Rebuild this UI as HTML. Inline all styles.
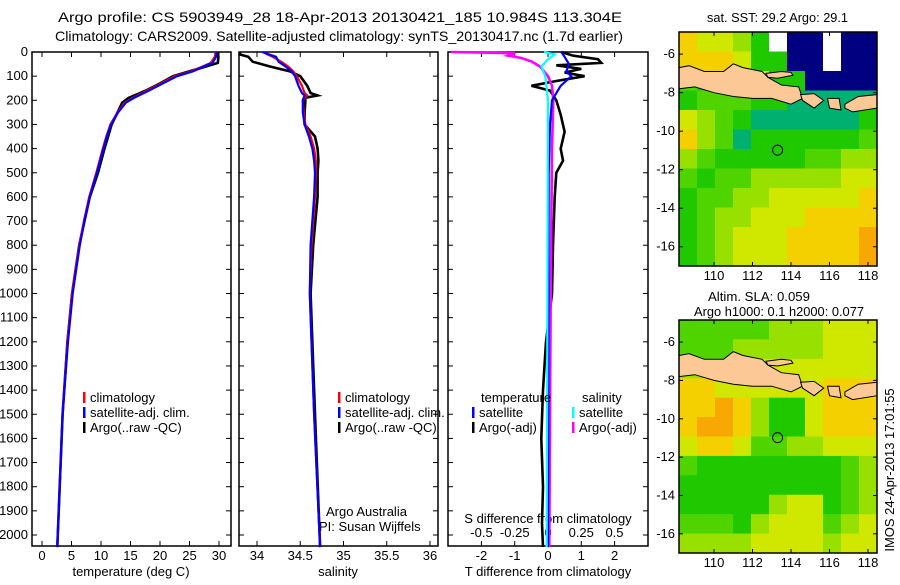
<!DOCTYPE html>
<html><head><meta charset="utf-8"><style>
body{margin:0;background:#fff;width:900px;height:580px;overflow:hidden}
svg text{font-family:"Liberation Sans",sans-serif;font-size:13px;fill:#000}
</style></head><body>
<svg id="s" width="900" height="580" xmlns="http://www.w3.org/2000/svg">
<text x="58" y="22" textLength="564" lengthAdjust="spacingAndGlyphs" style="font-size:14px">Argo profile: CS 5903949_28 18-Apr-2013 20130421_185 10.984S 113.304E</text>
<text x="55" y="41" textLength="568" lengthAdjust="spacingAndGlyphs" style="font-size:14px">Climatology: CARS2009. Satellite-adjusted climatology: synTS_20130417.nc (1.7d earlier)</text>
<text x="707" y="22" textLength="141" lengthAdjust="spacingAndGlyphs">sat. SST: 29.2 Argo: 29.1</text>
<text x="708" y="301" textLength="102" lengthAdjust="spacingAndGlyphs">Altim. SLA: 0.059</text>
<text x="694" y="316" textLength="170" lengthAdjust="spacingAndGlyphs">Argo h1000: 0.1 h2000: 0.077</text>
<text transform="translate(894,470) rotate(-90)" text-anchor="middle">IMOS 24-Apr-2013 17:01:55</text>
<text x="326" y="516">Argo Australia</text>
<text x="319" y="531">PI: Susan Wijffels</text>
</svg>
<script>
// ---- data ----
const depthTicks=[0,100,200,300,400,500,600,700,800,900,1000,1100,1200,1300,1400,1500,1600,1700,1800,1900,2000];
const tDepth=[0,20,45,60,80,100,130,160,190,210,250,300,350,400,500,600,700,800,1000,1200,1500,1800,2050];
const tClim=[29.4,29.3,28.6,27.2,25.3,22.5,20.2,17.8,15.4,14.0,12.8,11.6,10.9,10.3,9.2,8.0,7.1,6.3,5.1,4.3,3.5,3.0,2.6];
const tSat=[29.6,29.5,28.9,27.4,25.6,22.9,20.5,18.1,15.6,14.2,12.9,11.7,11.0,10.4,9.3,8.1,7.2,6.4,5.2,4.4,3.5,3.0,2.6];
const tArgo=[29.8,29.9,29.8,27.8,25.0,22.2,20.0,17.6,14.7,13.6,12.8,11.8,11.2,10.6,9.5,8.1,7.2,6.3,5.1,4.3,3.5,3.0,2.6];
const sDepth=[0,10,20,40,60,80,100,140,170,180,190,200,250,300,350,400,450,500,600,800,1000,1500,2050];
const sClim=[34.07,34.12,34.18,34.28,34.36,34.42,34.46,34.52,34.55,34.58,34.55,34.53,34.54,34.56,34.62,34.66,34.68,34.68,34.67,34.63,34.61,34.66,34.73];
const sSat=[34.06,34.14,34.22,34.25,34.33,34.40,34.44,34.48,34.52,34.55,34.54,34.53,34.53,34.55,34.60,34.64,34.66,34.67,34.66,34.62,34.61,34.66,34.73];
const sArgo=[33.80,33.80,33.90,33.95,34.15,34.38,34.50,34.58,34.62,34.70,34.55,34.56,34.55,34.55,34.67,34.70,34.71,34.70,34.70,34.65,34.62,34.67,34.73];
const dtDepth=[0,15,30,45,55,70,85,100,120,140,160,200,260,330,400,450,500,600,800,1000,1200,1400,1600,1800,1950,2050];
const dtArgo=[0.4,0.75,1.5,1.6,0.25,1.0,0.5,1.1,0.25,-0.5,0.06,0.25,0.38,0.5,0.38,0.45,0.25,0.2,0.15,0.12,-0.06,-0.15,-0.2,-0.15,-0.18,-0.15];
const dtSatDepth=[0,20,50,80,100,140,200,300,500,2050];
const dtSat=[0.4,0.5,0.63,0.55,0.7,0.38,0.12,0.06,0.02,0];
const dsArgoDepth=[0,5,15,25,40,60,100,140,200,400,1000,2050];
const dsArgo=[-0.73,-0.25,-0.3,-0.2,-0.12,-0.06,0,0.03,0.04,0.03,0.02,0.01];
const dsSatDepth=[0,10,30,60,100,200,2050];
const dsSat=[-0.03,0.05,0,-0.05,-0.02,0,-0.01];
const tempTicks=[0,5,10,15,20,25,30];
const salTicks=[34,34.5,35,35.5,36];
const dtTicks=[-2,-1,0,1,2];
const dsTicks=[-0.5,-0.25,0,0.25,0.5];
const latTicks=[-6,-8,-10,-12,-14,-16];
const lonTicks=[110,112,114,116,118];
const sstGrid=["87764w00w00","88874400w00","54447440000","45554433333","76543333334","86534444445","65444445566","54556666677","45566777778","45667778888","45677788889","45677788889"];
const slaGrid=["55555666777","55566666777","66777777777","88777777888","88986447888","89986447888","78875566777","54444444456","44444444456","44444677456","55546777567","66667777677"];
const argoLon=113.304, argoLat=-10.984;
// ---- helpers ----
const S=document.getElementById('s'),NS='http://www.w3.org/2000/svg';
function mk(t,a,p){const e=document.createElementNS(NS,t);for(const k in a)e.setAttribute(k,a[k]);(p||S).appendChild(e);return e;}
const Y0=52,PY=0.2415;const yD=d=>Y0+d*PY;
const P1={l:32,r:231},P2={l:239,r:438},P3={l:448,r:648},TOP=52,BOT=546;
const xT=v=>42+v*(219-42)/30, xS=v=>257+(v-34)*(430-257)/2, xDT=v=>548+v*33.3, xDS=v=>548+v*133;
function line(xs,ds,fx,col,name,w){const pts=xs.map((v,i)=>fx(v).toFixed(1)+','+yD(ds[i]).toFixed(1)).join(' ');
 const e=mk('polyline',{points:pts,fill:'none',stroke:col,'stroke-width':w||2.2});
 
 }
function frame(P,name){const e=mk('rect',{x:P.l,y:TOP,width:P.r-P.l,height:BOT-TOP,fill:'none',stroke:'#000','stroke-width':1.5});
 
 
 depthTicks.forEach(d=>{mk('line',{x1:P.l,x2:P.l+5,y1:yD(d),y2:yD(d),stroke:'#000'});mk('line',{x1:P.r,x2:P.r-5,y1:yD(d),y2:yD(d),stroke:'#000'});});}
function xticks(ticks,fx,ylab,fmt,name){ticks.forEach(v=>{const x=fx(v);mk('line',{x1:x,x2:x,y1:BOT,y2:BOT-5,stroke:'#000'});mk('line',{x1:x,x2:x,y1:TOP,y2:TOP+5,stroke:'#000'});
 const t=mk('text',{x:x,y:ylab,'text-anchor':'middle'});t.textContent=fmt(v);
 
 });}
function txt(x,y,s,name,anchor){const t=mk('text',{x:x,y:y,'text-anchor':anchor||'start'});t.textContent=s;
 
 return t;}
depthTicks.forEach(d=>{txt(28,yD(d)+4,String(d),'depth-tick-label','end');});
frame(P1,'temperature-panel');
xticks(tempTicks,xT,560,v=>v,'temperature-tick-label');
txt(131,576,'temperature (deg C)','temperature-axis-title','middle');
line(tArgo,tDepth,xT,'#000','temperature-argo-line',2.6);
line(tClim,tDepth,xT,'#ff0000','temperature-climatology-line');
line(tSat,tDepth,xT,'#0000ff','temperature-satellite-line');
frame(P2,'salinity-panel');
xticks(salTicks,xS,560,v=>v,'salinity-tick-label');
txt(338,576,'salinity','salinity-axis-title','middle');
line(sArgo,sDepth,xS,'#000','salinity-argo-line',2.6);
line(sClim,sDepth,xS,'#ff0000','salinity-climatology-line');
line(sSat,sDepth,xS,'#0000ff','salinity-satellite-line');
frame(P3,'difference-panel');
xticks(dtTicks,xDT,560,v=>v,'t-diff-tick-label');
dsTicks.forEach(v=>{txt(xDS(v),537,String(v),'s-diff-tick-label','middle');});
txt(548,576,'T difference from climatology','t-diff-axis-title','middle');
txt(548,523,'S difference from climatology','s-diff-axis-title','middle');
line(dtArgo,dtDepth,xDT,'#000','t-diff-argo-line',2.6);
line(dsArgo,dsArgoDepth,xDS,'#ff00ff','s-diff-argo-line',2.6);
line(dtSat,dtSatDepth,xDT,'#0000ff','t-diff-satellite-line');
line(dsSat,dsSatDepth,xDS,'#00ffff','s-diff-satellite-line');
function leg(x,y,col,label,name){mk('rect',{x:x,y:y-10,width:2.5,height:11,fill:col});txt(x+7,y,label,name);}
[[P1,83],[P2,338]].forEach(([P,x])=>{leg(x,402,'#ff0000','climatology','legend-climatology');leg(x,417,'#0000ff','satellite-adj. clim.','legend-satellite');leg(x,432,'#000','Argo(..raw -QC)','legend-argo');});
txt(481,402,'temperature','legend-temperature-header');
txt(582,402,'salinity','legend-salinity-header');
leg(472,417,'#0000ff','satellite','legend-t-satellite');leg(472,432,'#000','Argo(-adj)','legend-t-argo');
leg(572,417,'#00ffff','satellite','legend-s-satellite');leg(572,432,'#ff00ff','Argo(-adj)','legend-s-argo');
const PAL={'0':'#000080','1':'#0060ff','2':'#00c0ff','3':'#00b070','4':'#20c800','5':'#50d400','6':'#98e000','7':'#d0e800','8':'#f4d000','9':'#f8a800','r':'#c00000','w':'#ffffff'};
const LON0=108.18,LON1=118.47,LAT0=-4.85,LAT1=-17.0;
const java=[[108.18,-6.7],[108.7,-6.6],[109.5,-6.9],[110.5,-6.9],[111,-6.5],[111.5,-6.7],[112.5,-6.9],[112.8,-7.2],[113.5,-7.6],[114.4,-7.7],[114.6,-8.3],[114,-8.6],[113,-8.3],[112,-8.3],[111,-8.2],[110,-8],[109,-7.7],[108.18,-7.8]];
const madura=[[112.7,-7.0],[113.5,-6.9],[114,-6.95],[114.1,-7.1],[113.3,-7.25],[112.8,-7.2]];
const bali=[[114.5,-8.1],[115.2,-8.05],[115.7,-8.4],[115.2,-8.8],[114.6,-8.4]];
const lombok=[[115.9,-8.3],[116.5,-8.3],[116.6,-8.9],[116,-8.8]];
const sumbawa=[[116.8,-8.6],[117.5,-8.2],[118.47,-8.1],[118.47,-8.8],[117.2,-9],[116.8,-8.8]];
function map(grid,top,bot,name){const L=679,R=877;
 const fx=v=>L+(v-LON0)/(LON1-LON0)*(R-L), fy=v=>top+(v-LAT0)/(LAT1-LAT0)*(bot-top);
 const g=mk('g',{});
 const rows=grid.length,cols=grid[0].length,cw=(R-L)/cols,ch=(bot-top)/rows;
 grid.forEach((r,i)=>[...r].forEach((c,j)=>mk('rect',{x:L+j*cw,y:top+i*ch,width:cw+0.5,height:ch+0.5,fill:PAL[c]},g)));
 [java,madura,bali,lombok,sumbawa].forEach(p=>{const e=mk('polygon',{points:p.map(q=>fx(q[0]).toFixed(1)+','+fy(q[1]).toFixed(1)).join(' '),fill:'#fcc896',stroke:'#000','stroke-width':1},g);
  
  });
 const c=mk('circle',{cx:fx(argoLon),cy:fy(argoLat),r:5,fill:'none',stroke:'#000','stroke-width':1},g);
 
 
 mk('rect',{x:L,y:top,width:R-L,height:bot-top,fill:'none',stroke:'#000','stroke-width':1.5});
 latTicks.forEach(v=>{const y=fy(v);mk('line',{x1:L,x2:L+4,y1:y,y2:y,stroke:'#000'});mk('line',{x1:R,x2:R-4,y1:y,y2:y,stroke:'#000'});txt(675,y+4,String(v),'map-lat-label','end');});
 lonTicks.forEach(v=>{const x=fx(v);mk('line',{x1:x,x2:x,y1:bot,y2:bot-4,stroke:'#000'});mk('line',{x1:x,x2:x,y1:top,y2:top+4,stroke:'#000'});txt(x,bot+14,String(v),'map-lon-label','middle');});
}
map(sstGrid,32,266,'sst-map');
map(slaGrid,320,553,'sla-map');
</script>
</body></html>
